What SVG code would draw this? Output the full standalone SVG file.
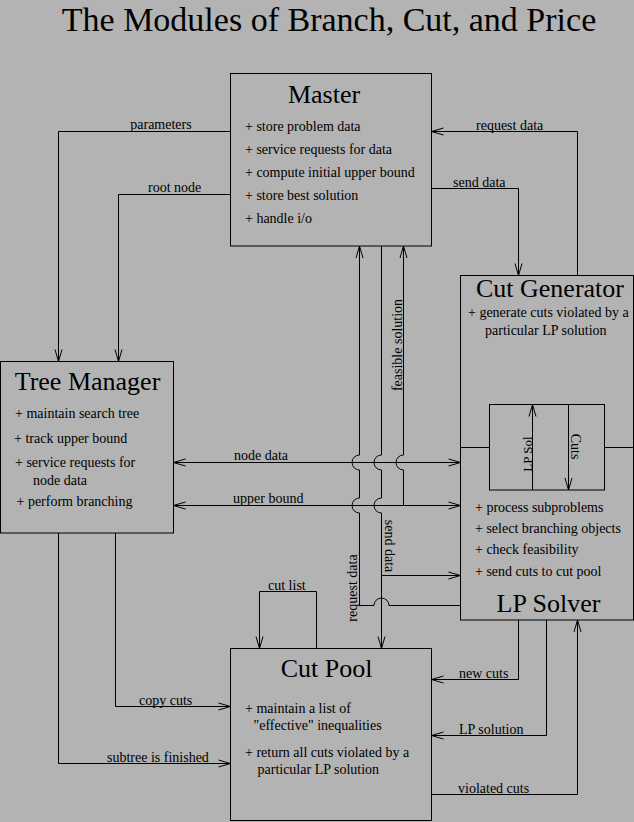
<svg xmlns="http://www.w3.org/2000/svg" width="634" height="822" viewBox="0 0 634 822">
<defs>
<marker id="a" viewBox="-13 -5 14 10" refX="0" refY="0" markerWidth="14" markerHeight="10" markerUnits="userSpaceOnUse" orient="auto-start-reverse">
<path d="M-12,-3.5 L0,0 L-12,3.5" fill="none" stroke="#000" stroke-width="1"/>
</marker>
<style>
text{font-family:"Liberation Serif","Times New Roman",serif;fill:#000}
.t{font-size:34px}
.h{font-size:26px;text-anchor:middle}
.i{font-size:14px}
.l{font-size:14px}
.m{text-anchor:middle}
.box{fill:none;stroke:#000;stroke-width:1}
.c path{fill:none;stroke:#000;stroke-width:1}
.ar{marker-end:url(#a)}
.ar2{marker-start:url(#a);marker-end:url(#a)}
</style>
</defs>
<rect x="0" y="0" width="634" height="822" fill="#b3b3b3"/>
<text class="t" x="329" y="30.5" text-anchor="middle">The Modules of Branch, Cut, and Price</text>

<g id="master">
<rect class="box" x="230.5" y="73.5" width="201" height="172.5"/>
<text class="h" x="324" y="103">Master</text>
<text class="i" x="245" y="131">+ store problem data</text>
<text class="i" x="245" y="154">+ service requests for data</text>
<text class="i" x="245" y="177">+ compute initial upper bound</text>
<text class="i" x="245" y="199.5">+ store best solution</text>
<text class="i" x="245" y="222.5">+ handle i/o</text>
</g>

<g id="tree-manager">
<rect class="box" x="0.5" y="361.5" width="173" height="171.5"/>
<text class="h" x="87.5" y="389.5">Tree Manager</text>
<text class="i" x="15" y="418">+ maintain search tree</text>
<text class="i" x="14" y="443">+ track upper bound</text>
<text class="i" x="15" y="466.5">+ service requests for</text>
<text class="i" x="33" y="485">node data</text>
<text class="i" x="16.5" y="506">+ perform branching</text>
</g>

<g id="cut-generator-lp-solver">
<rect class="box" x="460.5" y="275.5" width="173" height="344.5"/>
<text class="h" x="550" y="297">Cut Generator</text>
<text class="i" x="468" y="316.5">+ generate cuts violated by a</text>
<text class="i" x="485" y="335">particular LP solution</text>
<rect class="box" x="489.5" y="404.5" width="115" height="85.5"/>
<path d="M460.5,447.5 H489.5 M604.5,447.5 H633.5" fill="none" stroke="#000" stroke-width="1"/>
<text class="i" x="475" y="511.5">+ process subproblems</text>
<text class="i" x="475" y="532.5">+ select branching objects</text>
<text class="i" x="475" y="554">+ check feasibility</text>
<text class="i" x="475" y="576">+ send cuts to cut pool</text>
<text class="h" x="548.5" y="611.5">LP Solver</text>
</g>

<g id="cut-pool">
<rect class="box" x="230.5" y="648.5" width="201" height="172"/>
<text class="h" x="326.5" y="677">Cut Pool</text>
<text class="i" x="245" y="713">+ maintain a list of</text>
<text class="i" x="253.5" y="730">"effective" inequalities</text>
<text class="i" x="245" y="757">+ return all cuts violated by a</text>
<text class="i" x="257.5" y="774">particular LP solution</text>
</g>

<g id="connectors" class="c">
<path class="ar" d="M230.5,131.5 H58.5 V361.5"/>
<path class="ar" d="M230.5,194.5 H118.5 V361.5"/>
<path class="ar" d="M577.5,275.5 V131.5 H431.5"/>
<path class="ar" d="M431.5,188.5 H518.5 V275.5"/>
<path class="ar2" d="M173.5,462.5 H460.5"/>
<path class="ar2" d="M173.5,505.5 H460.5"/>
<path class="ar" d="M460.5,605.5 H389 A7.5,7.5 0 0 0 374,605.5 H359.5 V513 A7.5,7.5 0 0 1 359.5,498 V470 A7.5,7.5 0 0 1 359.5,455 V246"/>
<path class="ar" d="M381.5,246 V455 A7.5,7.5 0 0 0 381.5,470 V498 A7.5,7.5 0 0 0 381.5,513 V648.5"/>
<path class="ar" d="M381.5,575.5 H460.5"/>
<path class="ar" d="M403.5,505.5 V470 A7.5,7.5 0 0 1 403.5,455 V246"/>
<path class="ar" d="M316.5,648.5 V591.5 H259.5 V648.5"/>
<path class="ar" d="M115.5,533 V706.5 H230.5"/>
<path class="ar" d="M58.5,533 V763.5 H230.5"/>
<path class="ar" d="M518.5,620 V679.5 H431.5"/>
<path class="ar" d="M546.5,620 V735.5 H431.5"/>
<path class="ar" d="M431.5,794.5 H577.5 V620"/>
<path class="ar" d="M532.5,490 V404.5"/>
<path class="ar" d="M568.5,404.5 V490"/>
<text class="l m" x="161" y="129">parameters</text>
<text class="l" x="148" y="192">root node</text>
<text class="l" x="476" y="129.5">request data</text>
<text class="l" x="453" y="186.5">send data</text>
<text class="l" x="234" y="459.5">node data</text>
<text class="l" x="233" y="503">upper bound</text>
<text class="l" x="268" y="590">cut list</text>
<text class="l" x="139" y="704.5">copy cuts</text>
<text class="l" x="107" y="762">subtree is finished</text>
<text class="l" x="459" y="677.5">new cuts</text>
<text class="l" x="459" y="733.5">LP solution</text>
<text class="l" x="458" y="792.5">violated cuts</text>
<text class="l m" transform="translate(402,345) rotate(-90)">feasible solution</text>
<text class="l m" transform="translate(356.5,588) rotate(-90)">request data</text>
<text class="l m" transform="translate(385,546) rotate(90)">send data</text>
<text class="l m" transform="translate(531.5,454) rotate(-90)" style="font-size:13px">LP Sol</text>
<text class="l m" transform="translate(570.5,446.5) rotate(90)">Cuts</text>
</g>
</svg>
